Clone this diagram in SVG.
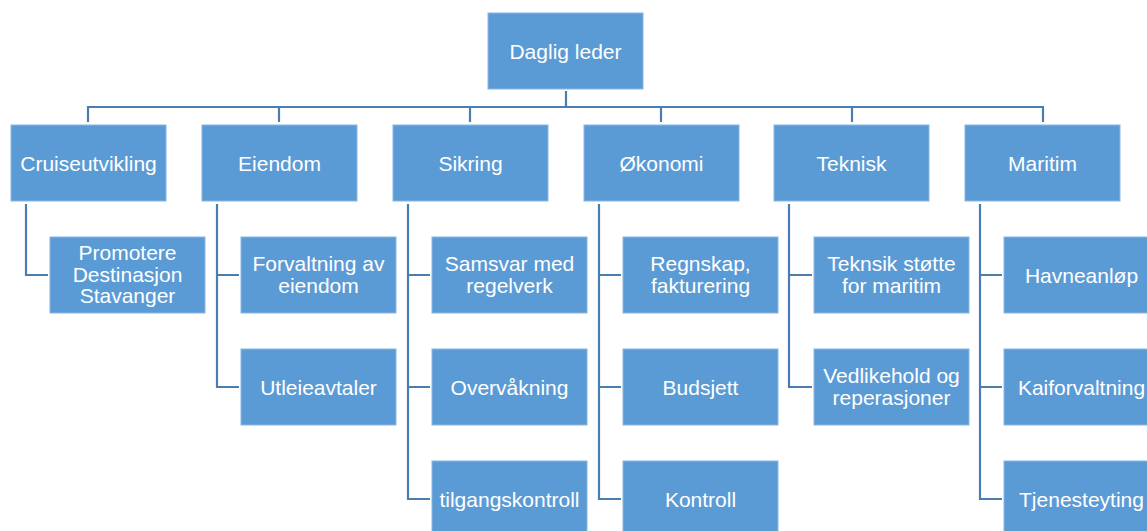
<svg xmlns="http://www.w3.org/2000/svg" width="1147" height="531" viewBox="0 0 1147 531">
<style>
.box{fill:#5b9bd5;stroke:#8ab6e3;stroke-width:1}
.t{font-family:"Liberation Sans",Arial,sans-serif;font-size:21px;fill:#ffffff;text-anchor:middle}
.c{fill:none;stroke:#4a7eb0;stroke-width:2.2}
</style>
<rect width="1147" height="531" fill="#ffffff"/>
<g id="connectors">
<path class="c" d="M566 91V107M88 122V107H1043V122M279 107V122M470 107V122M661 107V122M852 107V122"/>
<path class="c" d="M26 204V275H48"/>
<path class="c" d="M217 204V387H239M217 275H239"/>
<path class="c" d="M408 204V499H430M408 275H430M408 387H430"/>
<path class="c" d="M599 204V499H621M599 275H621M599 387H621"/>
<path class="c" d="M789 204V387H812M789 275H812"/>
<path class="c" d="M980 204V499H1002M980 275H1002M980 387H1002"/>
</g>
<g id="n-daglig"><rect class="box" x="488" y="13" width="155" height="76"/><text class="t" x="565.5" y="58.5">Daglig leder</text></g>
<g id="n-cruise"><rect class="box" x="11" y="125" width="155" height="76"/><text class="t" x="88.5" y="170.5">Cruiseutvikling</text></g>
<g id="n-eiendom"><rect class="box" x="202" y="125" width="155" height="76"/><text class="t" x="279.5" y="170.5">Eiendom</text></g>
<g id="n-sikring"><rect class="box" x="393" y="125" width="155" height="76"/><text class="t" x="470.5" y="170.5">Sikring</text></g>
<g id="n-okonomi"><rect class="box" x="584" y="125" width="155" height="76"/><text class="t" x="661.5" y="170.5">Økonomi</text></g>
<g id="n-teknisk"><rect class="box" x="774" y="125" width="155" height="76"/><text class="t" x="851.5" y="170.5">Teknisk</text></g>
<g id="n-maritim"><rect class="box" x="965" y="125" width="155" height="76"/><text class="t" x="1042.5" y="170.5">Maritim</text></g>

<g id="n-promotere"><rect class="box" x="50" y="237" width="155" height="76"/><text class="t" x="127.5" y="260"><tspan x="127.5" y="260">Promotere</tspan><tspan x="127.5" y="281.5">Destinasjon</tspan><tspan x="127.5" y="303">Stavanger</tspan></text></g>

<g id="n-forvaltning"><rect class="box" x="241" y="237" width="155" height="76"/><text class="t"><tspan x="318.5" y="271">Forvaltning av</tspan><tspan x="318.5" y="292.5">eiendom</tspan></text></g>
<g id="n-utleie"><rect class="box" x="241" y="349" width="155" height="76"/><text class="t" x="318.5" y="394.5">Utleieavtaler</text></g>

<g id="n-samsvar"><rect class="box" x="432" y="237" width="155" height="76"/><text class="t"><tspan x="509.5" y="271">Samsvar med</tspan><tspan x="509.5" y="292.5">regelverk</tspan></text></g>
<g id="n-overvakning"><rect class="box" x="432" y="349" width="155" height="76"/><text class="t" x="509.5" y="394.5">Overvåkning</text></g>
<g id="n-tilgang"><rect class="box" x="432" y="461" width="155" height="76"/><text class="t" x="509.5" y="506.5">tilgangskontroll</text></g>

<g id="n-regnskap"><rect class="box" x="623" y="237" width="155" height="76"/><text class="t"><tspan x="700.5" y="271">Regnskap,</tspan><tspan x="700.5" y="292.5">fakturering</tspan></text></g>
<g id="n-budsjett"><rect class="box" x="623" y="349" width="155" height="76"/><text class="t" x="700.5" y="394.5">Budsjett</text></g>
<g id="n-kontroll"><rect class="box" x="623" y="461" width="155" height="76"/><text class="t" x="700.5" y="506.5">Kontroll</text></g>

<g id="n-teknisk-stotte"><rect class="box" x="814" y="237" width="155" height="76"/><text class="t"><tspan x="891.5" y="271">Teknsik støtte</tspan><tspan x="891.5" y="292.5">for maritim</tspan></text></g>
<g id="n-vedlikehold"><rect class="box" x="814" y="349" width="155" height="76"/><text class="t"><tspan x="891.5" y="383">Vedlikehold og</tspan><tspan x="891.5" y="404.5">reperasjoner</tspan></text></g>

<g id="n-havneanlop"><rect class="box" x="1004" y="237" width="155" height="76"/><text class="t" x="1081.5" y="282.5">Havneanløp</text></g>
<g id="n-kaiforvaltning"><rect class="box" x="1004" y="349" width="155" height="76"/><text class="t" x="1081.5" y="394.5">Kaiforvaltning</text></g>
<g id="n-tjenesteyting"><rect class="box" x="1004" y="461" width="155" height="76"/><text class="t" x="1081.5" y="506.5">Tjenesteyting</text></g>
</svg>
